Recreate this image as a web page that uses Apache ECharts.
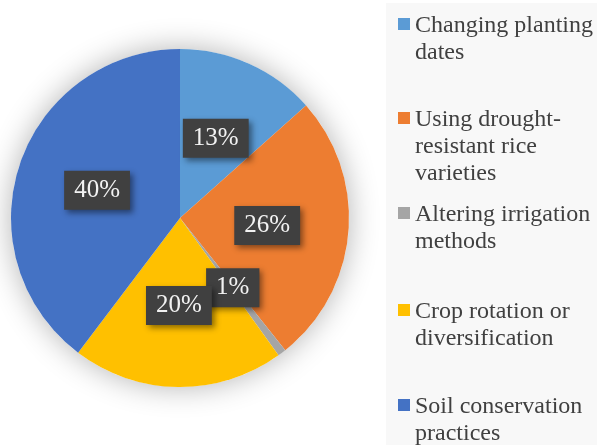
<!DOCTYPE html>
<html><head><meta charset="utf-8">
<script src="https://cdn.jsdelivr.net/npm/echarts@6/dist/echarts.min.js"></script>
<style>html,body{margin:0;padding:0;background:#fff}#c{width:597px;height:445px}</style>
</head><body><div id="c"></div>
<script>
var categories = ['Changing planting dates','Using drought-resistant rice varieties','Altering irrigation methods','Crop rotation or diversification','Soil conservation practices'];
var legendText = ['Changing planting\ndates','Using drought-\nresistant rice\nvarieties','Altering irrigation\nmethods','Crop rotation or\ndiversification','Soil conservation\npractices'];
var values = [13.4, 25.9, 0.8, 20.2, 39.7];
var colors = ['#5B9BD5','#ED7D31','#A5A5A5','#FFC000','#4472C4'];

var FONT = '"Liberation Serif", "Times New Roman", serif';
var legendTops = [12, 106, 201, 298, 393];
var legendLines = [2, 3, 2, 2, 2];
var LH = 27;

var legends = categories.map(function(name, i){
  var h = legendLines[i] * LH;
  var icon = 'path://M0,0h0.01v0.01h-0.01z M0,6h12v12h-12z M0,' + (h-0.01) + 'h0.01v0.01h-0.01z';
  return {
    data: [{name: name, icon: icon}],
    orient: 'vertical',
    left: 398, top: legendTops[i],
    padding: 0,
    itemWidth: 12, itemHeight: h,
    itemStyle: {borderWidth: 0},
    selectedMode: false,
    formatter: function(){ return legendText[i]; },
    textStyle: {fontFamily: FONT, fontSize: 24, lineHeight: LH, color: '#404040'}
  };
});

var chart = echarts.init(document.getElementById('c'), null, {renderer: 'canvas'});
chart.setOption({
  backgroundColor: '#ffffff',
  animation: false,
  color: colors,
  graphic: [{type: 'rect', left: 386, top: 3, shape: {width: 211, height: 442}, style: {fill: '#f8f8f8'}, z: -10}],
  legend: legends,
  series: [
    {
      type: 'pie', silent: true, radius: 169, center: [180, 218],
      label: {show: false}, labelLine: {show: false}, tooltip: {show: false},
      itemStyle: {color: '#ffffff', shadowBlur: 30, shadowColor: 'rgba(0,0,0,0.3)', borderWidth: 0},
      data: [{value: 1, name: '__bg'}], z: 1, legendHoverLink: false
    },
    {
      type: 'pie', radius: 169, center: [180, 218], startAngle: 90, clockwise: true,
      avoidLabelOverlap: false,
      labelLayout: {hideOverlap: false},
      itemStyle: {borderWidth: 0},
      emphasis: {disabled: true},
      label: {
        show: true, position: 'inside',
        formatter: function(p){ return Math.round(p.percent) + '%'; },
        fontFamily: FONT, fontSize: 25, lineHeight: 26, color: '#f2f2f2',
        backgroundColor: '#404040', padding: [7, 10, 6, 10],
        shadowColor: 'rgba(0,0,0,0.45)', shadowBlur: 6, shadowOffsetX: 3, shadowOffsetY: 3
      },
      labelLine: {show: false},
      data: categories.map(function(n, i){ return {name: n, value: values[i]}; }),
      z: 2
    }
  ]
});
</script></body></html>
